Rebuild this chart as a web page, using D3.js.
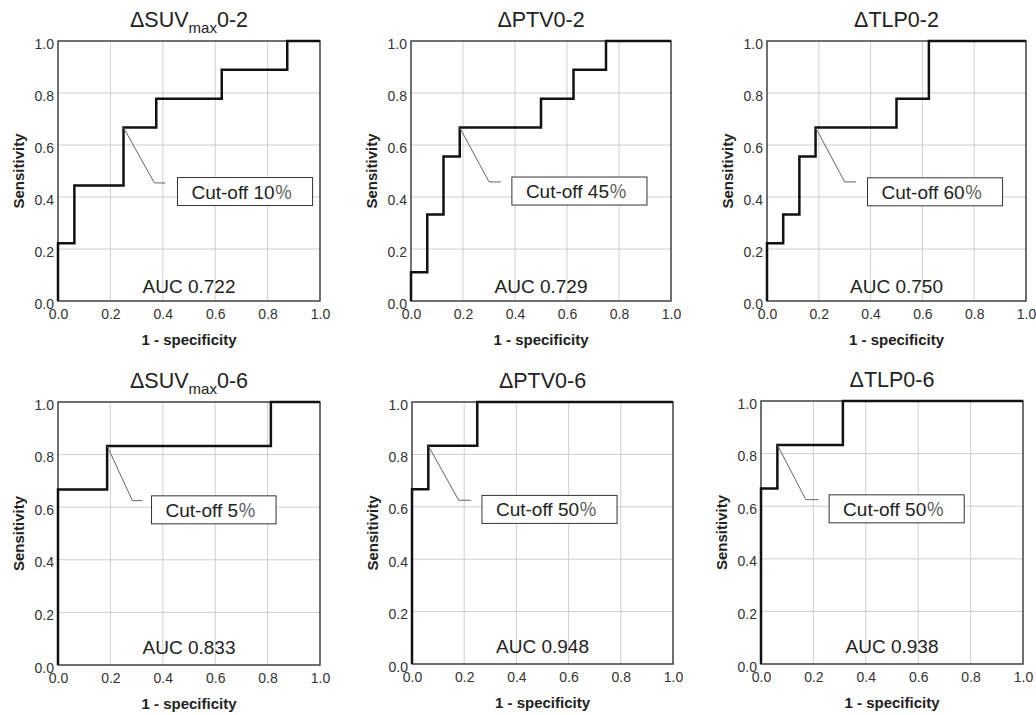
<!DOCTYPE html>
<html>
<head>
<meta charset="utf-8">
<script src="https://cdn.jsdelivr.net/npm/d3@7"></script>
<style>
  body { margin: 0; background: white; }
  text { font-family: "Liberation Sans", Arial, sans-serif; }
</style>
</head>
<body>
<div id="chart"></div>
<script>
// Panel titles: [prefix, subscript, suffix]
const titles = [
    ["ΔSUV", "max", "0-2"],
    ["ΔPTV0-2", "", ""],
    ["ΔTLP0-2", "", ""],
    ["ΔSUV", "max", "0-6"],
    ["ΔPTV0-6", "", ""],
    ["ΔTLP0-6", "", ""]
];

// ROC step points (1 - specificity, sensitivity)
const fprValues = [
    [0, 0, 0.0625, 0.25, 0.375, 0.625, 0.875, 1],
    [0, 0, 0.0625, 0.125, 0.1875, 0.5, 0.625, 0.75, 1],
    [0, 0, 0.0625, 0.125, 0.1875, 0.5, 0.625, 1],
    [0, 0, 0.1875, 0.8125, 1],
    [0, 0, 0.0625, 0.25, 1],
    [0, 0, 0.0625, 0.3125, 1]
];
const tprValues = [
    [0, 0.222, 0.444, 0.667, 0.778, 0.889, 1, 1],
    [0, 0.111, 0.333, 0.556, 0.667, 0.778, 0.889, 1, 1],
    [0, 0.222, 0.333, 0.556, 0.667, 0.778, 1, 1],
    [0, 0.667, 0.833, 1, 1],
    [0, 0.667, 0.833, 1, 1],
    [0, 0.667, 0.833, 1, 1]
];

const aucLabels = ["AUC 0.722", "AUC 0.729", "AUC 0.750", "AUC 0.833", "AUC 0.948", "AUC 0.938"];
const cutoffValues = ["10", "45", "60", "5", "50", "50"];
// cut-off point on the curve
const cutoffX = [0.25, 0.1875, 0.1875, 0.1875, 0.0625, 0.0625];
const cutoffY = [0.667, 0.667, 0.667, 0.833, 0.833, 0.833];

const tickValues = [0, 0.2, 0.4, 0.6, 0.8, 1.0];

// Layout of each panel (pixels) and label placement (data units)
const panels = [
    {left: 58,  top: 41,  w: 262, h: 260, aucOff: 8,  elbow: [0.368, 0.454], lineEnd: 0.41,  boxX: 0.456, boxY: 0.421},
    {left: 411, top: 41,  w: 260, h: 260, aucOff: 8,  elbow: [0.30, 0.458],  lineEnd: 0.346, boxX: 0.388, boxY: 0.423},
    {left: 767, top: 41,  w: 259, h: 260, aucOff: 8,  elbow: [0.30, 0.458],  lineEnd: 0.344, boxX: 0.388, boxY: 0.42},
    {left: 58,  top: 402, w: 262, h: 263, aucOff: 11, elbow: [0.284, 0.625], lineEnd: 0.322, boxX: 0.357, boxY: 0.59},
    {left: 412, top: 402, w: 261, h: 262, aucOff: 11, elbow: [0.179, 0.625], lineEnd: 0.226, boxX: 0.268, boxY: 0.59},
    {left: 761, top: 401, w: 262, h: 263, aucOff: 11, elbow: [0.171, 0.625], lineEnd: 0.219, boxX: 0.26,  boxY: 0.59}
];

const width = 1036, height = 715;

const svg = d3.select('#chart')
    .append('svg')
    .attr('width', width)
    .attr('height', height)
    .style('background', 'white');

panels.forEach((p, i) => {
    const x = d3.scaleLinear().domain([0, 1]).range([p.left, p.left + p.w]);
    const y = d3.scaleLinear().domain([0, 1]).range([p.top + p.h, p.top]);

    const g = svg.append('g');

    // grid
    g.selectAll('.vgrid').data(tickValues.slice(1, -1)).enter()
        .append('line')
        .attr('x1', d => x(d)).attr('x2', d => x(d))
        .attr('y1', y(0)).attr('y2', y(1))
        .attr('stroke', '#cfcfcf').attr('stroke-width', 1);
    g.selectAll('.hgrid').data(tickValues.slice(1, -1)).enter()
        .append('line')
        .attr('x1', x(0)).attr('x2', x(1))
        .attr('y1', d => y(d)).attr('y2', d => y(d))
        .attr('stroke', '#cfcfcf').attr('stroke-width', 1);

    // frame
    g.append('rect')
        .attr('x', x(0)).attr('y', y(1))
        .attr('width', x(1) - x(0)).attr('height', y(0) - y(1))
        .attr('fill', 'none')
        .attr('stroke', '#333').attr('stroke-width', 1.4);

    // axes (labels only)
    const xAxis = g.append('g')
        .attr('transform', `translate(0,${y(0)})`)
        .call(d3.axisBottom(x).tickValues(tickValues).tickFormat(d3.format('.1f')).tickSize(0).tickPadding(8));
    const yAxis = g.append('g')
        .attr('transform', `translate(${x(0)},0)`)
        .call(d3.axisLeft(y).tickValues(tickValues).tickFormat(d3.format('.1f')).tickSize(0).tickPadding(4));
    [xAxis, yAxis].forEach(a => {
        a.select('.domain').remove();
        a.selectAll('text')
            .style('font-family', '"Liberation Sans", Arial, sans-serif')
            .style('font-size', '14px')
            .attr('fill', '#333');
    });
    yAxis.selectAll('text').attr('dy', '0.5em');

    // ROC curve
    const pts = fprValues[i].map((d, j) => [d, tprValues[i][j]]);
    g.append('path')
        .datum(pts)
        .attr('d', d3.line().x(d => x(d[0])).y(d => y(d[1])).curve(d3.curveStepAfter))
        .attr('fill', 'none')
        .attr('stroke', '#111')
        .attr('stroke-width', 2.5);

    // leader line
    g.append('polyline')
        .attr('points', [
            [x(cutoffX[i]), y(cutoffY[i])],
            [x(p.elbow[0]), y(p.elbow[1])],
            [x(p.lineEnd), y(p.elbow[1])]
        ].map(d => d.join(',')).join(' '))
        .attr('fill', 'none')
        .attr('stroke', '#666')
        .attr('stroke-width', 1);

    // cut-off box
    const boxH = 28;
    const rect = g.append('rect')
        .attr('x', x(p.boxX))
        .attr('y', y(p.boxY) - boxH / 2)
        .attr('height', boxH)
        .attr('fill', 'white')
        .attr('stroke', '#333')
        .attr('stroke-width', 1);
    const label = g.append('text')
        .attr('x', x(p.boxX) + 14)
        .attr('y', y(p.boxY) + 7)
        .style('font-size', '19px')
        .attr('fill', '#222');
    label.append('tspan').text('Cut-off ' + cutoffValues[i]);
    label.append('tspan')
        .text('％')
        .style('font-family', '"Noto Sans CJK JP", sans-serif')
        .style('font-size', '18px')
        .attr('fill', '#555');
    rect.attr('width', label.node().getComputedTextLength() + 34);

    // AUC
    g.append('text')
        .attr('x', x(0.5))
        .attr('y', y(0) - p.aucOff)
        .attr('text-anchor', 'middle')
        .style('font-size', '19px')
        .attr('fill', '#222')
        .text(aucLabels[i]);

    // title
    const t = g.append('text')
        .attr('x', x(0.5))
        .attr('y', p.top - 14)
        .attr('text-anchor', 'middle')
        .style('font-size', '21.5px')
        .attr('fill', '#222');
    t.append('tspan').text(titles[i][0]);
    if (titles[i][1]) {
        t.append('tspan').text(titles[i][1]).style('font-size', '15px').attr('dy', 6);
        t.append('tspan').text(titles[i][2]).attr('dy', -6);
    }

    // axis titles
    g.append('text')
        .attr('x', x(0.5))
        .attr('y', y(0) + 44)
        .attr('text-anchor', 'middle')
        .style('font-size', '15px')
        .style('font-weight', 'bold')
        .attr('fill', '#222')
        .text('1 - specificity');
    g.append('text')
        .attr('transform', `translate(${p.left - 34},${p.top + p.h / 2}) rotate(-90)`)
        .attr('text-anchor', 'middle')
        .style('font-size', '15px')
        .style('font-weight', 'bold')
        .attr('fill', '#222')
        .text('Sensitivity');
});
</script>
</body>
</html>
